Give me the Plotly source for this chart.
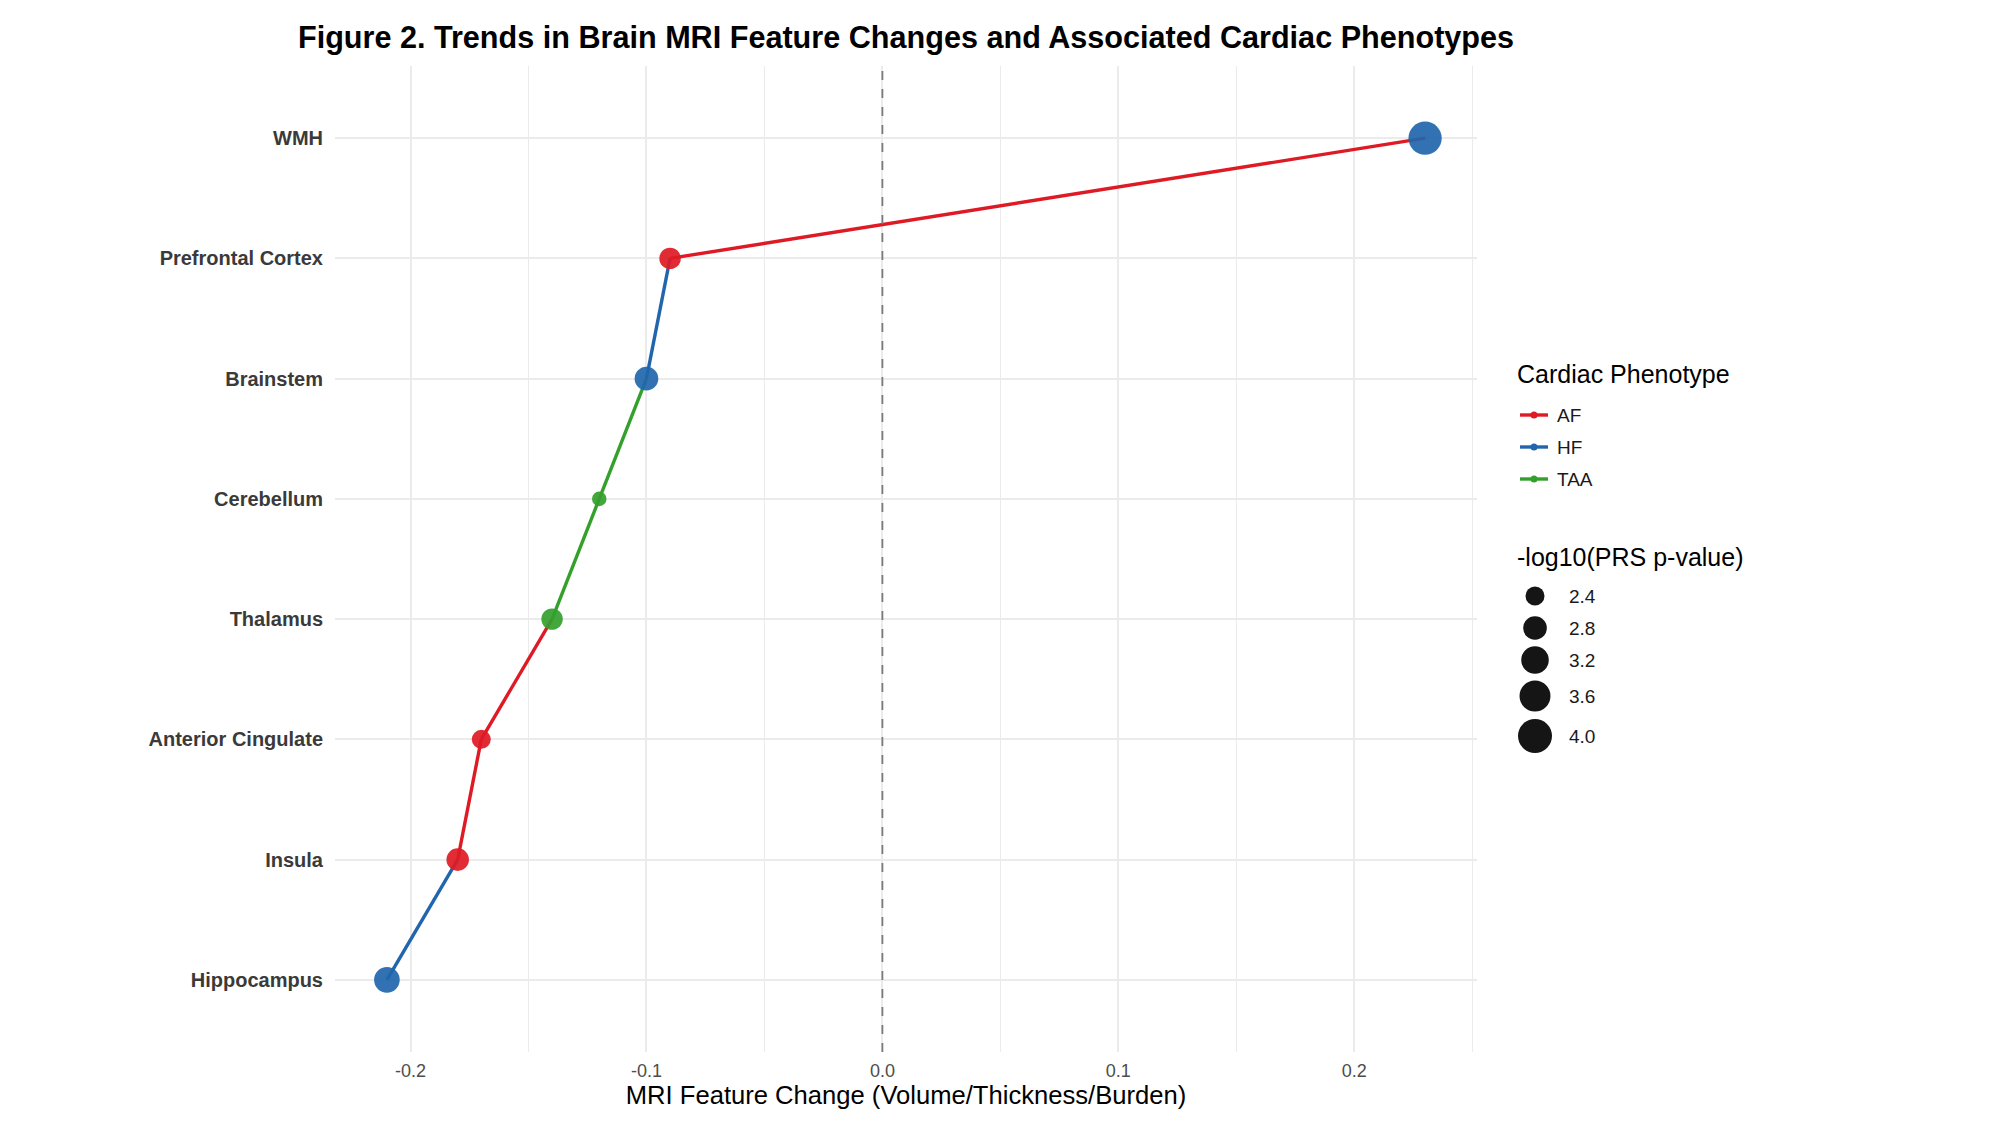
import plotly.graph_objects as go
import math

# ---------------- data ----------------
regions = ["Hippocampus", "Insula", "Anterior Cingulate", "Thalamus",
           "Cerebellum", "Brainstem", "Prefrontal Cortex", "WMH"]
mri_change = [-0.21, -0.18, -0.17, -0.14, -0.12, -0.10, -0.09, 0.23]
phenotype = ["HF", "AF", "AF", "TAA", "TAA", "HF", "AF", "HF"]
neglog10_p = [3.0, 2.7, 2.4, 2.6, 2.1, 2.8, 2.6, 3.9]

phenotype_levels = ["AF", "HF", "TAA"]
size_breaks = [2.4, 2.8, 3.2, 3.6, 4.0]
x_ticks = [-0.2, -0.1, 0.0, 0.1, 0.2]
x_minor = [-0.15, -0.05, 0.05, 0.15, 0.25]

# ---------------- style ----------------
W, H = 2000, 1125
colors = {"AF": "#DE1A24", "HF": "#2166AC", "TAA": "#33A02C"}
FONT = "Liberation Sans"


def diam(v):
    # area-proportional size scale
    return math.sqrt(max(-832 + 497 * v, 30))


# plot area in figure pixels
L, R, T, B = 327, 1469, 58, 1044

fig = go.Figure()

# reference line at zero (drawn first, under the data)
fig.add_trace(go.Scatter(
    x=[0, 0], y=[0, 1], mode="lines",
    line=dict(color="#7A7A7A", width=1.8, dash="dash"),
    showlegend=False, hoverinfo="skip", xaxis="x", yaxis="y3",
))

# path segments (coloured by the starting point's phenotype)
for i in range(len(regions) - 1):
    fig.add_trace(go.Scatter(
        x=[mri_change[i], mri_change[i + 1]],
        y=[regions[i], regions[i + 1]],
        mode="lines",
        line=dict(color=colors[phenotype[i]], width=3.4),
        showlegend=False, hoverinfo="skip",
        xaxis="x", yaxis="y",
    ))

# points
fig.add_trace(go.Scatter(
    x=mri_change, y=regions, mode="markers",
    marker=dict(size=[diam(v) for v in neglog10_p],
                color=[colors[p] for p in phenotype],
                opacity=0.92, line=dict(width=0)),
    showlegend=False,
    xaxis="x", yaxis="y",
))

# ---------------- manual legends on pixel axes ----------------
key_y = [407, 439, 471]
for lvl, ky in zip(phenotype_levels, key_y):
    fig.add_trace(go.Scatter(
        x=[1512, 1526, 1540], y=[ky, ky, ky], mode="lines",
        line=dict(color=colors[lvl], width=3.4),
        showlegend=False, hoverinfo="skip", xaxis="x2", yaxis="y2"))
    fig.add_trace(go.Scatter(
        x=[1526], y=[ky], mode="markers",
        marker=dict(size=7, color=colors[lvl], opacity=1),
        showlegend=False, hoverinfo="skip", xaxis="x2", yaxis="y2"))

size_y = [588, 620, 652, 688, 728]
fig.add_trace(go.Scatter(
    x=[1527] * len(size_breaks), y=size_y, mode="markers",
    marker=dict(size=[diam(v) for v in size_breaks], color="#151515",
                opacity=1, line=dict(width=0)),
    showlegend=False, hoverinfo="skip", xaxis="x2", yaxis="y2"))

annotations = []
annotations.append(dict(x=1507, y=366, xref="x2", yref="y2", text="Cardiac Phenotype",
                        showarrow=False, xanchor="left", yanchor="middle",
                        font=dict(family=FONT, size=25, color="#000000")))
for lvl, ky in zip(phenotype_levels, key_y):
    annotations.append(dict(x=1547, y=ky, xref="x2", yref="y2", text=lvl,
                            showarrow=False, xanchor="left", yanchor="middle",
                            font=dict(family=FONT, size=19, color="#1a1a1a")))
annotations.append(dict(x=1507, y=549, xref="x2", yref="y2", text="-log10(PRS p-value)",
                        showarrow=False, xanchor="left", yanchor="middle",
                        font=dict(family=FONT, size=25, color="#000000")))
for v, sy in zip(size_breaks, size_y):
    annotations.append(dict(x=1559, y=sy, xref="x2", yref="y2", text=f"{v:.1f}",
                            showarrow=False, xanchor="left", yanchor="middle",
                            font=dict(family=FONT, size=19, color="#1a1a1a")))

fig.update_layout(
    width=W, height=H,
    margin=dict(l=0, r=0, t=0, b=0, autoexpand=False),
    plot_bgcolor="white", paper_bgcolor="white",
    showlegend=False,
    title=dict(text="<b>Figure 2. Trends in Brain MRI Feature Changes and Associated Cardiac Phenotypes</b>",
               x=(L + R) / 2 / W, xanchor="center", xref="paper",
               y=1 - 29 / H, yanchor="middle", yref="paper",
               font=dict(family=FONT, size=30.6, color="#000000")),
    xaxis=dict(
        domain=[L / W, R / W],
        range=[-0.232, 0.252],
        tickvals=x_ticks, ticktext=[f"{t:.1f}" for t in x_ticks],
        showgrid=True, gridcolor="#EBEBEB", gridwidth=2,
        minor=dict(tickvals=x_minor, showgrid=True, gridcolor="#EBEBEB", gridwidth=1.2),
        zeroline=False, showline=False, ticks="",
        tickfont=dict(family=FONT, size=18, color="#4D4D4D"),
        ticklabelstandoff=6,
        title=dict(text="MRI Feature Change (Volume/Thickness/Burden)",
                   font=dict(family=FONT, size=25.6, color="#000000"), standoff=2),
    ),
    yaxis=dict(
        domain=[(H - B) / H, (H - T) / H],
        type="category", categoryorder="array", categoryarray=regions,
        range=[-0.6, len(regions) - 0.4],
        showgrid=True, gridcolor="#EBEBEB", gridwidth=2,
        zeroline=False, showline=False, ticks="",
        tickfont=dict(family=FONT, size=20, color="#3A3A3A", weight="bold"),
        ticklabelstandoff=11,
    ),
    yaxis3=dict(overlaying="y", range=[0, 1], visible=False, showgrid=False, fixedrange=True),
    xaxis2=dict(domain=[0.74, 1.0], range=[1480, 2000], visible=False, anchor="y2", fixedrange=True),
    yaxis2=dict(domain=[0, 1], range=[H, 0], visible=False, anchor="x2", fixedrange=True),
    annotations=annotations,
)

fig.write_html("out.html")
